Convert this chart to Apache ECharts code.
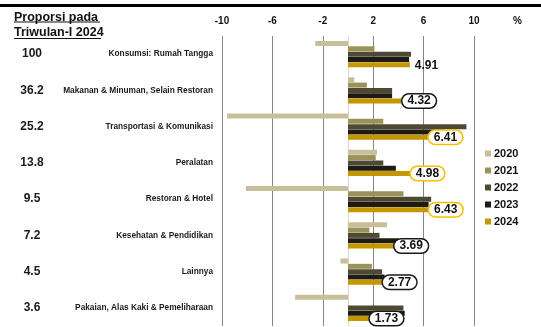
<!DOCTYPE html>
<html>
<head>
<meta charset="utf-8">
<script src="https://cdn.jsdelivr.net/npm/echarts@6/dist/echarts.min.js"></script>
<style>
  html, body { margin: 0; padding: 0; background: #fff; }
  #chart { width: 541px; height: 327px; }
</style>
</head>
<body>
<div id="chart"></div>
<script>
// Household consumption growth by expenditure group, Q1 of each year (% yoy)
const categories = [
  'Konsumsi: Rumah Tangga',
  'Makanan & Minuman, Selain Restoran',
  'Transportasi & Komunikasi',
  'Peralatan',
  'Restoran & Hotel',
  'Kesehatan & Pendidikan',
  'Lainnya',
  'Pakaian, Alas Kaki & Pemeliharaan'
];
const shareQ1_2024 = ['100', '36.2', '25.2', '13.8', '9.5', '7.2', '4.5', '3.6'];

const years = ['2020', '2021', '2022', '2023', '2024'];
const g2020 = [-2.6, 0.5, -9.6, 2.3, -8.1, 3.1, -0.6, -4.2];
const g2021 = [2.1, 1.5, 2.8, 2.2, 4.4, 1.7, 1.9, 0];
const g2022 = [5.0, 3.5, 9.4, 2.8, 6.6, 2.5, 2.7, 4.4];
const g2023 = [4.85, 3.5, 7.6, 3.8, 6.4, 4.0, 2.9, 4.5];
const g2024 = [4.91, 4.32, 6.41, 4.98, 6.43, 3.69, 2.77, 1.73];

const tickLabels = ['-10', '-6', '-2', '2', '6', '10'];

// ring drawn round each 2024 value label: none / dark / gold
const labelRing = ['none', 'dark', 'gold', 'gold', 'gold', 'dark', 'dark', 'dark'];

const colors = ['#c8bf9a', '#9b9259', '#4e4a32', '#1d1b13', '#c49700'];
const ringColors = { dark: '#1a1a1a', gold: '#f5c000' };
const FONT = '"Liberation Sans", Arial, sans-serif';

const seriesData = [g2020, g2021, g2022, g2023, g2024];

function labelFor(kind) {
  if (kind === 'none') {
    return {
      show: true, position: 'right', distance: 5, offset: [0, 1],
      fontFamily: FONT, fontWeight: 'bold', fontSize: 12, color: '#111'
    };
  }
  return {
    show: true, position: 'right', distance: 0, offset: [0, 0],
    fontFamily: FONT, fontWeight: 'bold', fontSize: 12, color: '#111',
    backgroundColor: '#fff', borderColor: ringColors[kind], borderWidth: 1.5,
    borderRadius: 9, padding: [1, 5, 0, 5]
  };
}

const series = years.map((y, si) => {
  const s = {
    name: y,
    type: 'bar',
    xAxisIndex: 0,
    yAxisIndex: 0,
    barWidth: 5,
    barGap: '6%',
    itemStyle: { color: colors[si] },
    data: seriesData[si].map((v, i) => si === 4
      ? { value: v, label: labelFor(labelRing[i]) }
      : v),
    z: 3
  };
  if (si === 4) {
    s.label = {
      show: true,
      formatter: p => p.value.toFixed(2)
    };
  }
  if (si === 0) {
    s.markLine = {
      silent: true, symbol: 'none', label: { show: false },
      lineStyle: { color: '#dcd8c6', width: 1, type: 'solid' },
      data: [{ xAxis: 0 }],
      z: 1
    };
  }
  return s;
});

const chart = echarts.init(document.getElementById('chart'), null, { renderer: 'canvas' });

chart.setOption({
  animation: false,
  backgroundColor: '#fff',
  textStyle: { fontFamily: FONT },
  grid: { left: 222, right: 67, top: 36, bottom: 1, containLabel: false },
  xAxis: [
    {
      type: 'value', min: -10, max: 10,
      axisLine: { show: false }, axisTick: { show: false },
      axisLabel: { show: false }, splitLine: { show: false }
    },
    {
      // reference grid: ticks every 4 starting at -10
      type: 'value', min: 0, max: 20, interval: 4, position: 'top',
      axisLine: { show: false }, axisTick: { show: false },
      axisLabel: {
        margin: 10,
        fontFamily: FONT, fontWeight: 'bold', fontSize: 10, color: '#111',
        formatter: (v, idx) => tickLabels[idx]
      },
      splitLine: { show: true, lineStyle: { color: '#858585', width: 1 } }
    }
  ],
  yAxis: [
    {
      type: 'category', data: categories, inverse: true,
      axisLine: { show: false, onZero: false }, axisTick: { show: false },
      axisLabel: {
        margin: 9, fontFamily: FONT, fontWeight: 'bold', fontSize: 8.3, color: '#1a1a1a'
      }
    },
    {
      type: 'category', data: categories, inverse: true, position: 'left',
      axisLine: { show: false, onZero: false }, axisTick: { show: false },
      axisLabel: {
        margin: 190, align: 'center',
        fontFamily: FONT, fontWeight: 'bold', fontSize: 12, color: '#1a1a1a',
        formatter: (v, idx) => shareQ1_2024[idx]
      }
    }
  ],
  legend: {
    orient: 'vertical', left: 480, top: 142,
    icon: 'rect', itemWidth: 6, itemHeight: 6, itemGap: 4,
    textStyle: { fontFamily: FONT, fontWeight: 'bold', fontSize: 11, color: '#111', lineHeight: 13, padding: [0, 0, 0, -2] },
    data: years
  },
  graphic: [
    { type: 'rect', shape: { x: 0, y: 4, width: 541, height: 3 }, style: { fill: '#000' } },
    { type: 'text', x: 14, y: 11, style: { text: 'Proporsi pada', font: 'bold 12.5px ' + FONT, fill: '#111' } },
    { type: 'line', shape: { x1: 14, y1: 22, x2: 100, y2: 22 }, style: { stroke: '#111', lineWidth: 1.2 } },
    { type: 'text', x: 14, y: 26, style: { text: 'Triwulan-I 2024', font: 'bold 12.5px ' + FONT, fill: '#111' } },
    { type: 'line', shape: { x1: 14, y1: 38.5, x2: 101, y2: 38.5 }, style: { stroke: '#111', lineWidth: 1.2 } },
    { type: 'text', x: 513, y: 16, style: { text: '%', font: 'bold 10px ' + FONT, fill: '#111' } }
  ],
  series: series
});
</script>
</body>
</html>
